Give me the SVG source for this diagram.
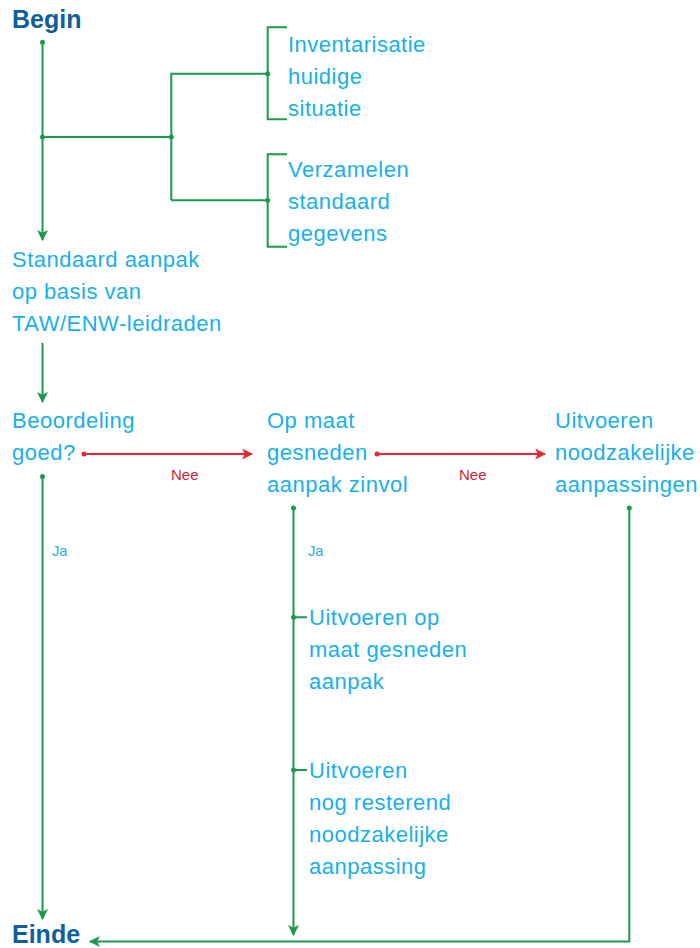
<svg xmlns="http://www.w3.org/2000/svg" width="700" height="948" viewBox="0 0 700 948">
<defs>
<style>
.t{font-family:"Liberation Sans",Arial,sans-serif;font-size:22px;fill:#17b1e8;letter-spacing:0.5px}
.h{font-family:"Liberation Sans",Arial,sans-serif;font-size:25px;font-weight:bold;fill:#0d5f9e}
.ja{font-family:"Liberation Sans",Arial,sans-serif;font-size:14.5px;fill:#17b1e8}
.nee{font-family:"Liberation Sans",Arial,sans-serif;font-size:15px;fill:#d3232e}
.g{stroke:#1a9a4c;stroke-width:2;fill:none}
.r{stroke:#e8262e;stroke-width:2;fill:none}
.gd{fill:#1a9a4c}
.rd{fill:#e8262e}
</style>
<marker id="ag" viewBox="0 0 10 10" refX="9" refY="5" markerWidth="5.5" markerHeight="5.5" orient="auto" markerUnits="strokeWidth">
<path d="M0,0 L10,5 L0,10 L2.5,5 Z" fill="#1a9a4c"/>
</marker>
<marker id="ar" viewBox="0 0 10 10" refX="9" refY="5" markerWidth="5.5" markerHeight="5.5" orient="auto" markerUnits="strokeWidth">
<path d="M0,0 L10,5 L0,10 L2.5,5 Z" fill="#e8262e"/>
</marker>
</defs>
<rect width="700" height="948" fill="#ffffff"/>

<g id="connectors">
<path class="g" d="M42.5,42 V240" marker-end="url(#ag)"/>
<circle class="gd" cx="42.5" cy="42.3" r="2.5"/>
<path class="g" d="M42.5,137 H171.3 M171.3,200.3 V73.7 H267.7 M171.3,200.3 H267.7"/>
<circle class="gd" cx="42.5" cy="137" r="2.5"/>
<circle class="gd" cx="171.3" cy="137" r="2.5"/>
<path class="g" d="M287,27.3 H267.7 V119.3 H287"/>
<circle class="gd" cx="267.7" cy="73.7" r="2.5"/>
<path class="g" d="M287,154.3 H267.7 V246.7 H287"/>
<circle class="gd" cx="267.7" cy="200.3" r="2.5"/>
<path class="g" d="M42.5,343 V402" marker-end="url(#ag)"/>
<path class="r" d="M84,454 H252" marker-end="url(#ar)"/>
<circle class="rd" cx="84" cy="454" r="2.5"/>
<path class="r" d="M377,454 H545" marker-end="url(#ar)"/>
<circle class="rd" cx="377" cy="454" r="2.5"/>
<path class="g" d="M42.5,476 V919" marker-end="url(#ag)"/>
<circle class="gd" cx="42.5" cy="476.5" r="2.5"/>
<path class="g" d="M293.5,508 V935" marker-end="url(#ag)"/>
<circle class="gd" cx="293.5" cy="508" r="2.5"/>
<path class="g" d="M293.5,617.3 H307 M293.5,770 H307"/>
<circle class="gd" cx="293.5" cy="617.3" r="2.5"/>
<circle class="gd" cx="293.5" cy="770" r="2.5"/>
<path class="g" d="M629.3,508 V941.5 H90" marker-end="url(#ag)"/>
<circle class="gd" cx="629.3" cy="508" r="2.5"/>
<text class="nee" x="171" y="480">Nee</text>
<text class="nee" x="459" y="480">Nee</text>
<text class="ja" x="52" y="556">Ja</text>
<text class="ja" x="308" y="556">Ja</text>
</g>

<g id="begin"><text class="h" x="12" y="28">Begin</text></g>
<g id="inventarisatie">
<text class="t" x="288" y="52">Inventarisatie</text>
<text class="t" x="288" y="84">huidige</text>
<text class="t" x="288" y="116">situatie</text>
</g>
<g id="verzamelen">
<text class="t" x="288" y="177">Verzamelen</text>
<text class="t" x="288" y="209">standaard</text>
<text class="t" x="288" y="241">gegevens</text>
</g>
<g id="standaard">
<text class="t" x="12" y="267">Standaard aanpak</text>
<text class="t" x="12" y="299">op basis van</text>
<text class="t" x="12" y="331">TAW/ENW-leidraden</text>
</g>
<g id="beoordeling">
<text class="t" x="12" y="428">Beoordeling</text>
<text class="t" x="12" y="460">goed?</text>
</g>
<g id="opmaat">
<text class="t" x="267" y="428">Op maat</text>
<text class="t" x="267" y="460">gesneden</text>
<text class="t" x="267" y="492">aanpak zinvol</text>
</g>
<g id="uitvoeren-nood">
<text class="t" x="555" y="428">Uitvoeren</text>
<text class="t" x="555" y="460">noodzakelijke</text>
<text class="t" x="555" y="492">aanpassingen</text>
</g>
<g id="uitvoeren-opmaat">
<text class="t" x="309" y="625">Uitvoeren op</text>
<text class="t" x="309" y="657">maat gesneden</text>
<text class="t" x="309" y="689">aanpak</text>
</g>
<g id="uitvoeren-rest">
<text class="t" x="309" y="778">Uitvoeren</text>
<text class="t" x="309" y="810">nog resterend</text>
<text class="t" x="309" y="842">noodzakelijke</text>
<text class="t" x="309" y="874">aanpassing</text>
</g>
<g id="einde"><text class="h" x="12" y="943">Einde</text></g>
</svg>
